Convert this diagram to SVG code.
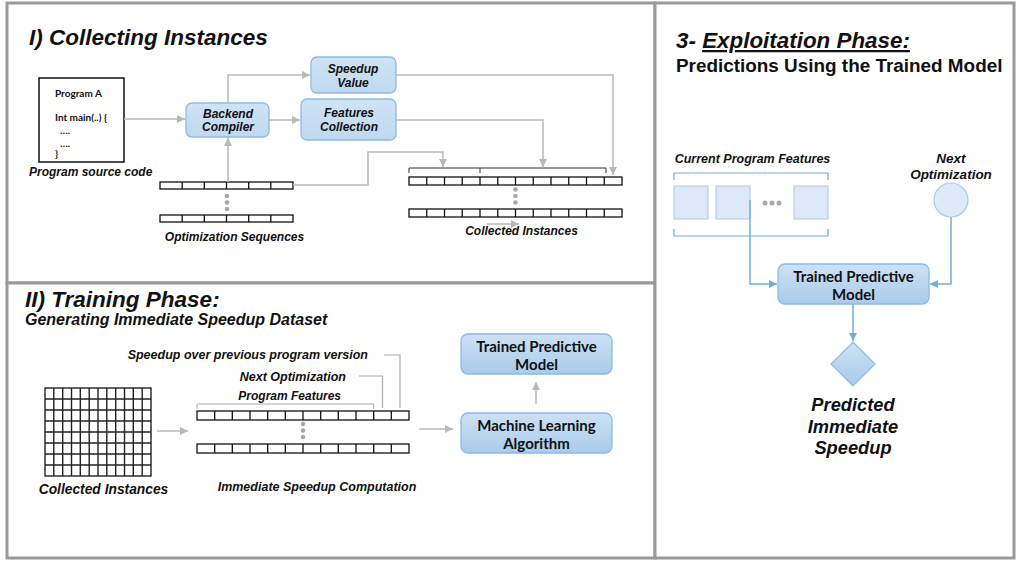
<svg xmlns="http://www.w3.org/2000/svg" width="1017" height="561" viewBox="0 0 1017 561">
<style>
.panel{fill:#fff;stroke:#9a9a9a;stroke-width:3}
.bi{font-family:"Liberation Sans",Arial,sans-serif;font-weight:bold;font-style:italic;fill:#111}
.b{font-family:"Liberation Sans",Arial,sans-serif;font-weight:bold;fill:#111}
.cal{font-family:Lato,"Open Sans",sans-serif;font-weight:bold;fill:#111}
.box{fill:url(#gLight);stroke:#8bbbe6;stroke-width:1.3}
.box2{fill:url(#gBlue);stroke:#8bbbe6;stroke-width:1.3}
.bar{fill:#fff;stroke:#111;stroke-width:1.3}
.conn{fill:none;stroke:#b9b9b9;stroke-width:1.5}
.bconn{fill:none;stroke:#6faee0;stroke-width:1.5}
.dot{fill:#a8a8a8}
.sq{fill:#dde9f6;stroke:#b3d1ee;stroke-width:1.2}
</style>
<defs>
<linearGradient id="gLight" x1="0" y1="0" x2="0" y2="1"><stop offset="0" stop-color="#cfe3f5"/><stop offset="1" stop-color="#bfd9f1"/></linearGradient>
<linearGradient id="gBlue" x1="0" y1="0" x2="0" y2="1"><stop offset="0" stop-color="#cde1f4"/><stop offset="1" stop-color="#a9cbeb"/></linearGradient>
<marker id="ag" markerUnits="userSpaceOnUse" markerWidth="9" markerHeight="8" refX="8" refY="4" orient="auto"><path d="M0,0 L8,4 L0,8 z" fill="#b9b9b9"/></marker>
<marker id="ab" markerUnits="userSpaceOnUse" markerWidth="9" markerHeight="8" refX="8" refY="4" orient="auto"><path d="M0,0 L8,4 L0,8 z" fill="#6faee0"/></marker>
</defs>
<rect width="1017" height="561" fill="#fff"/>
<!-- panels -->
<rect class="panel" x="7" y="3" width="648" height="280"/>
<rect class="panel" x="7" y="283" width="648" height="275"/>
<rect class="panel" x="655" y="3" width="359" height="555"/>

<!-- Panel I -->
<text class="bi" x="29" y="45" font-size="22.5">I) Collecting Instances</text>

<g id="program-a">
<rect x="39" y="78" width="85" height="84" fill="#fff" stroke="#111" stroke-width="1.5"/>
<text class="cal" x="55" y="97" font-size="10">Program A</text>
<text class="cal" x="55" y="121" font-size="10">Int main(..) {</text>
<text class="cal" x="60" y="134" font-size="10">….</text>
<text class="cal" x="60" y="147" font-size="10">….</text>
<text class="cal" x="55" y="157" font-size="10">}</text>
<text class="bi" x="29" y="176" font-size="12">Program source code</text>
</g>

<g id="backend-compiler">
<rect class="box" x="186" y="103" width="83" height="34" rx="6"/>
<text class="bi" x="228" y="118" font-size="12" text-anchor="middle">Backend</text>
<text class="bi" x="228" y="130.5" font-size="12" text-anchor="middle">Compiler</text>
</g>

<g id="speedup-value">
<rect class="box" x="311" y="57" width="85" height="36" rx="6"/>
<text class="bi" x="353" y="73" font-size="12" text-anchor="middle">Speedup</text>
<text class="bi" x="353" y="87" font-size="12" text-anchor="middle">Value</text>
</g>

<g id="features-collection">
<rect class="box" x="301" y="99" width="95" height="41" rx="6"/>
<text class="bi" x="349" y="117" font-size="12" text-anchor="middle">Features</text>
<text class="bi" x="349" y="131" font-size="12" text-anchor="middle">Collection</text>
</g>

<g id="optimization-sequences">
<rect class="bar" x="160" y="182" width="133" height="7"/>
<path d="M182.2,182v7M204.3,182v7M226.5,182v7M248.7,182v7M270.8,182v7" stroke="#111" stroke-width="1.3"/>
<rect class="bar" x="160" y="215" width="133" height="7"/>
<path d="M182.2,215v7M204.3,215v7M226.5,215v7M248.7,215v7M270.8,215v7" stroke="#111" stroke-width="1.3"/>
<circle class="dot" cx="227" cy="196" r="2.3"/>
<circle class="dot" cx="227" cy="202.5" r="2.3"/>
<circle class="dot" cx="227" cy="209" r="2.3"/>
<text class="bi" x="234.5" y="241" font-size="12" text-anchor="middle">Optimization Sequences</text>
</g>

<g id="collected-instances-1">
<path d="M409,173V168H606V173M480,168V173" fill="none" stroke="#333" stroke-width="1"/>
<rect class="bar" x="409" y="177" width="213" height="8"/>
<path d="M426.75,177v8M444.5,177v8M462.25,177v8M480,177v8M497.75,177v8M515.5,177v8M533.25,177v8M551,177v8M568.75,177v8M586.5,177v8M604.25,177v8" stroke="#111" stroke-width="1.3"/>
<rect class="bar" x="409" y="209" width="213" height="8"/>
<path d="M426.75,209v8M444.5,209v8M462.25,209v8M480,209v8M497.75,209v8M515.5,209v8M533.25,209v8M551,209v8M568.75,209v8M586.5,209v8M604.25,209v8" stroke="#111" stroke-width="1.3"/>
<circle class="dot" cx="515.5" cy="189.5" r="2.3"/>
<circle class="dot" cx="515.5" cy="196" r="2.3"/>
<circle class="dot" cx="515.5" cy="202.5" r="2.3"/>
<line class="conn" x1="487" y1="224" x2="519" y2="224" marker-end="url(#ag)"/>
<text class="bi" x="521.5" y="235" font-size="12" text-anchor="middle">Collected Instances</text>
</g>

<!-- Panel II -->
<text class="bi" x="25" y="307" font-size="22.5">II) Training Phase:</text>
<text class="bi" x="25" y="325" font-size="16">Generating Immediate Speedup Dataset</text>

<g id="collected-instances-2">
<rect x="45" y="388" width="106" height="88" fill="#fff" stroke="#222" stroke-width="1.4"/>
<path d="M53.8,388v88M62.7,388v88M71.5,388v88M80.3,388v88M89.2,388v88M98,388v88M106.8,388v88M115.7,388v88M124.5,388v88M133.3,388v88M142.2,388v88M45,399h106M45,410h106M45,421h106M45,432h106M45,443h106M45,454h106M45,465h106" stroke="#222" stroke-width="1.4"/>
<text class="bi" x="103.5" y="494" font-size="13.8" text-anchor="middle">Collected Instances</text>
</g>

<g id="immediate-speedup-computation">
<text class="bi" x="368" y="359" font-size="12.5" text-anchor="end">Speedup over previous program version</text>
<text class="bi" x="346" y="381" font-size="12.5" text-anchor="end">Next Optimization</text>
<text class="bi" x="341" y="400" font-size="12" text-anchor="end">Program Features</text>
<path d="M197,409V404H373.7V409" fill="none" stroke="#aaa" stroke-width="1"/>
<path d="M359,376H382.5V408M384,355H400V408" fill="none" stroke="#aaa" stroke-width="1.2"/>
<rect class="bar" x="197" y="411" width="212" height="9"/>
<path d="M214.7,411v9M232.3,411v9M250,411v9M267.7,411v9M285.3,411v9M303,411v9M320.7,411v9M338.3,411v9M356,411v9M373.7,411v9M391.3,411v9" stroke="#111" stroke-width="1.3"/>
<rect class="bar" x="197" y="444" width="212" height="9"/>
<path d="M214.7,444v9M232.3,444v9M250,444v9M267.7,444v9M285.3,444v9M303,444v9M320.7,444v9M338.3,444v9M356,444v9M373.7,444v9M391.3,444v9" stroke="#111" stroke-width="1.3"/>
<circle class="dot" cx="303" cy="424" r="2.2"/>
<circle class="dot" cx="303" cy="430.5" r="2.2"/>
<circle class="dot" cx="303" cy="437" r="2.2"/>
<text class="bi" x="317" y="491" font-size="12.5" text-anchor="middle">Immediate Speedup Computation</text>
</g>

<g id="ml-algorithm">
<rect class="box2" x="461" y="413" width="151" height="40" rx="7"/>
<text class="cal" x="536.5" y="430.5" font-size="15" text-anchor="middle">Machine Learning</text>
<text class="cal" x="536.5" y="448.5" font-size="15" text-anchor="middle">Algorithm</text>
</g>

<g id="trained-model-2">
<rect class="box2" x="461" y="334" width="151" height="40" rx="7"/>
<text class="cal" x="536.5" y="351.5" font-size="15" text-anchor="middle">Trained Predictive</text>
<text class="cal" x="536.5" y="369.5" font-size="15" text-anchor="middle">Model</text>
</g>

<!-- Panel 3 -->
<text class="bi" x="676" y="48" font-size="22.4">3- <tspan text-decoration="underline">Exploitation Phase:</tspan></text>
<text class="b" x="676" y="72" font-size="18.9">Predictions Using the Trained Model</text>

<g id="current-program-features">
<text class="bi" x="752.5" y="163" font-size="12.5" text-anchor="middle">Current Program Features</text>
<path d="M674,180V173H828V180M674,229V236H828V229" fill="none" stroke="#6faee0" stroke-width="1.2"/>
<rect class="sq" x="674" y="186" width="34" height="33"/>
<rect class="sq" x="716" y="186" width="34" height="33"/>
<rect class="sq" x="794" y="186" width="34" height="33"/>
<circle class="dot" cx="765" cy="203" r="2.5"/>
<circle class="dot" cx="772" cy="203" r="2.5"/>
<circle class="dot" cx="779" cy="203" r="2.5"/>
</g>

<g id="next-optimization">
<text class="bi" x="951" y="163" font-size="13.5" text-anchor="middle">Next</text>
<text class="bi" x="951" y="179" font-size="13.5" text-anchor="middle">Optimization</text>
<circle cx="951" cy="200" r="17" fill="#dde9f6" stroke="#a9cbeb" stroke-width="1.2"/>
</g>

<g id="trained-model-3">
<rect class="box2" x="778" y="264" width="151" height="40" rx="7"/>
<text class="cal" x="853.5" y="281.5" font-size="15" text-anchor="middle">Trained Predictive</text>
<text class="cal" x="853.5" y="299.5" font-size="15" text-anchor="middle">Model</text>
</g>

<g id="predicted-speedup">
<path d="M853,342L875,364L853,386L831,364z" fill="url(#gBlue)" stroke="#8bbbe6" stroke-width="1.2"/>
<text class="bi" x="853" y="411" font-size="18.3" text-anchor="middle">Predicted</text>
<text class="bi" x="853" y="433" font-size="18.3" text-anchor="middle">Immediate</text>
<text class="bi" x="853" y="454" font-size="18.3" text-anchor="middle">Speedup</text>
</g>

<g id="connectors">
<line class="conn" x1="124" y1="119" x2="185" y2="119" marker-end="url(#ag)"/>
<path class="conn" d="M228,103V75H310" marker-end="url(#ag)"/>
<line class="conn" x1="269" y1="120" x2="300" y2="120" marker-end="url(#ag)"/>
<line class="conn" x1="228" y1="182" x2="228" y2="138" marker-end="url(#ag)"/>
<path class="conn" d="M293,185H368V152H443V167" marker-end="url(#ag)"/>
<path class="conn" d="M396,120H543V167" marker-end="url(#ag)"/>
<path class="conn" d="M396,75H613V175" marker-end="url(#ag)"/>
<line class="conn" x1="157" y1="431" x2="188" y2="431" marker-end="url(#ag)"/>
<line class="conn" x1="419" y1="429" x2="453" y2="429" marker-end="url(#ag)"/>
<line class="conn" x1="536" y1="404" x2="536" y2="382" marker-end="url(#ag)"/>
<path class="bconn" d="M750,200V284H777" marker-end="url(#ab)"/>
<path class="bconn" d="M951,217V284H930" marker-end="url(#ab)"/>
<line class="bconn" x1="853" y1="304" x2="853" y2="341" marker-end="url(#ab)"/>
</g>
</svg>
